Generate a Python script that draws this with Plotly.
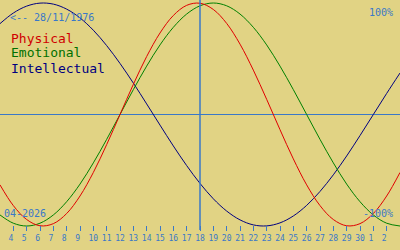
import plotly.graph_objects as go

# Day index (April 2026; 31 = 1 May, 32 = 2 May, 33 = 3 May)
days = list(range(3, 34))
tick_days = list(range(4, 33))
tick_labels = [str(d) for d in range(4, 31)] + ["1", "2"]

physical = [-0.631, -0.817, -0.942, -0.998, -0.979, -0.888, -0.731, -0.520, -0.270, 0.0,
            0.270, 0.520, 0.731, 0.888, 0.979, 0.998, 0.942, 0.817, 0.631, 0.398,
            0.136, -0.136, -0.398, -0.631, -0.817, -0.942, -0.998, -0.979, -0.888, -0.731,
            -0.520]
emotional = [-0.901, -0.975, -1.0, -0.975, -0.901, -0.782, -0.624, -0.434, -0.223, 0.0,
             0.223, 0.434, 0.624, 0.782, 0.901, 0.975, 1.0, 0.975, 0.901, 0.782,
             0.624, 0.434, 0.223, 0.0, -0.223, -0.434, -0.624, -0.782, -0.901, -0.975,
             -1.0]
intellectual = [0.815, 0.910, 0.972, 0.999, 0.990, 0.945, 0.866, 0.756, 0.618, 0.458,
                0.282, 0.095, -0.095, -0.282, -0.458, -0.618, -0.756, -0.866, -0.945, -0.990,
                -0.999, -0.972, -0.910, -0.815, -0.690, -0.541, -0.372, -0.189, 0.0, 0.189,
                0.372]
today = 18

BG = "#E1D384"
BLUE = "#3A78C8"
W, H = 400, 250

def px_to_v(p):
    return (114.5 - p) / 111.5

fig = go.Figure()
for name, vals, col in [("Intellectual", intellectual, "#000080"),
                        ("Emotional", emotional, "#008000"),
                        ("Physical", physical, "#E00000")]:
    fig.add_trace(go.Scatter(x=days, y=vals, mode="lines", name=name,
                             line=dict(color=col, width=1, shape="spline", smoothing=1.0),
                             hoverinfo="skip", showlegend=False))

fig.add_shape(type="line", xref="x", yref="y", x0=today, x1=today,
              y0=px_to_v(230), y1=px_to_v(0), line=dict(color=BLUE, width=1.5), layer="above")

def ann(text, x, y, size, color, xanchor="left"):
    fig.add_annotation(text=text, xref="paper", yref="paper", x=x / W, y=1 - y / H,
                       xanchor=xanchor, yanchor="middle", showarrow=False,
                       font=dict(family="DejaVu Sans Mono", size=size, color=color))

ann("&lt;-- 28/11/1976", 8, 17, 10, BLUE)
ann("100%", 395, 12, 10, BLUE, "right")
ann("-100%", 395, 213, 10, BLUE, "right")
ann("04-2026", 2, 213, 10, BLUE)
ann("Physical", 9, 38, 13, "#D00000")
ann("Emotional", 9, 53, 13, "#007000")
ann("Intellectual", 9, 68, 13, "#000080")

ticktext = [t if len(t) == 2 else t + "\u00a0" for t in tick_labels]

fig.update_layout(
    width=W, height=H, margin=dict(l=0, r=0, t=0, b=0),
    paper_bgcolor=BG, plot_bgcolor=BG,
    xaxis=dict(range=[3, 33], showgrid=False, zeroline=False, showline=False,
               tickvals=tick_days, ticktext=ticktext, ticks="outside", ticklen=5,
               tickwidth=1, tickcolor=BLUE, anchor="free", position=1 - 225 / H,
               tickfont=dict(family="DejaVu Sans Mono", size=8, color=BLUE)),
    yaxis=dict(range=[px_to_v(250), px_to_v(0)], showgrid=False, zeroline=True,
               zerolinecolor=BLUE, zerolinewidth=1, showticklabels=False, ticks=""),
    showlegend=False,
)

fig.write_html("out.html")
